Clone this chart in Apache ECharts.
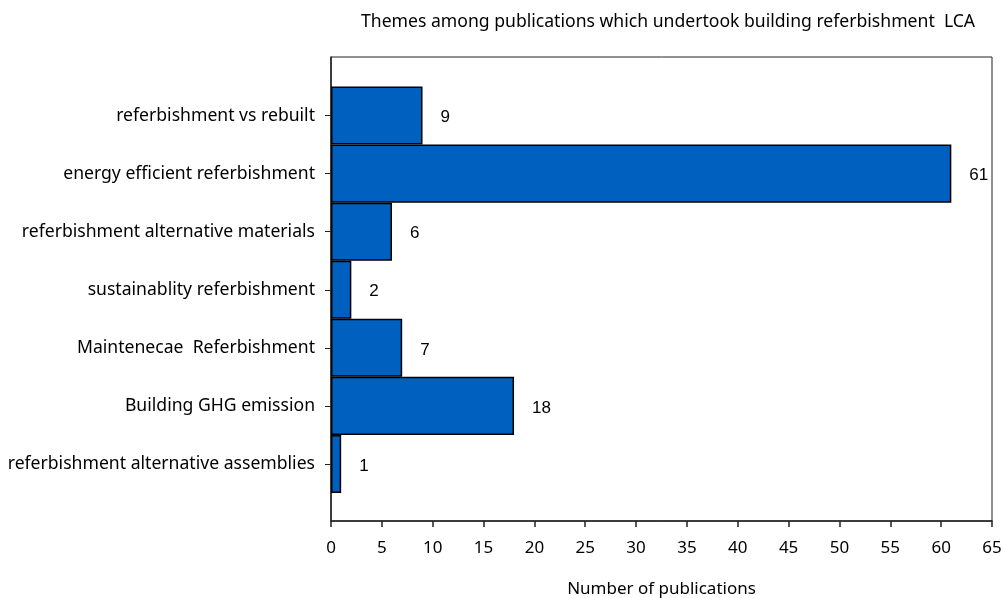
<!DOCTYPE html>
<html><head><meta charset="utf-8">
<script src="https://cdn.jsdelivr.net/npm/echarts@6/dist/echarts.min.js"></script>
<style>html,body{margin:0;padding:0;background:#fff}#c{width:1003px;height:598px}</style>
</head><body><div id="c"></div>
<script>
const categories = ["referbishment vs rebuilt","energy efficient referbishment","referbishment alternative materials","sustainablity referbishment","Maintenecae  Referbishment","Building GHG emission","referbishment alternative assemblies"];
const values = [9, 61, 6, 2, 7, 18, 1];
const xTicks = {min: 0, max: 65, interval: 5};
const titleText = "Themes among publications which undertook building referbishment  LCA";
const xName = "Number of publications";

const font = "'Noto Sans', 'Open Sans', sans-serif";
const chart = echarts.init(document.getElementById('c'), null, {renderer: 'canvas'});
chart.setOption({
  animation: false,
  title: {text: titleText, left: 356, top: 8, textStyle: {fontFamily: font, fontSize: 17.6, fontWeight: 'normal', color: '#000'}},
  grid: [
    {left: 331, right: 11, top: 86.5, bottom: 105, containLabel: false, outerBoundsMode: 'none'},
    {left: 331, right: 11, top: 57, bottom: 77, show: true, borderColor: '#222', borderWidth: 1, z: 0, containLabel: false, outerBoundsMode: 'none'}
  ],
  xAxis: [
    {gridIndex: 0, type: 'value', min: xTicks.min, max: xTicks.max, interval: xTicks.interval, show: false},
    {gridIndex: 1, type: 'value', min: xTicks.min, max: xTicks.max, interval: xTicks.interval,
     name: xName, nameLocation: 'middle', nameGap: 60,
     nameTextStyle: {fontFamily: font, fontSize: 17, color: '#000'},
     axisLine: {show: true, lineStyle: {color: '#222', width: 1.5}},
     axisTick: {show: true, inside: false, length: 6, lineStyle: {color: '#222', width: 1.5}},
     axisLabel: {fontFamily: font, fontSize: 17, color: '#000', margin: 19},
     splitLine: {show: false}}
  ],
  yAxis: [
    {gridIndex: 0, type: 'category', data: categories, inverse: true,
     axisLine: {show: false},
     axisTick: {show: true, alignWithLabel: true, length: 6, lineStyle: {color: '#222'}},
     axisLabel: {fontFamily: font, fontSize: 17.6, color: '#000', margin: 16}},
    {gridIndex: 1, type: 'value', min: 0, max: 1, show: true,
     axisLine: {show: true, lineStyle: {color: '#222', width: 1.5}},
     axisTick: {show: false}, axisLabel: {show: false}, splitLine: {show: false}}
  ],
  series: [{
    type: 'bar', xAxisIndex: 0, yAxisIndex: 0, data: values,
    barCategoryGap: '0%',
    itemStyle: {color: '#0060C0', borderColor: '#000', borderWidth: 1.5},
    label: {show: true, position: 'right', distance: 18, offset: [0, 2], fontFamily: "'Liberation Sans', Arial, sans-serif", fontSize: 17, color: '#000'}
  }]
});
</script></body></html>
